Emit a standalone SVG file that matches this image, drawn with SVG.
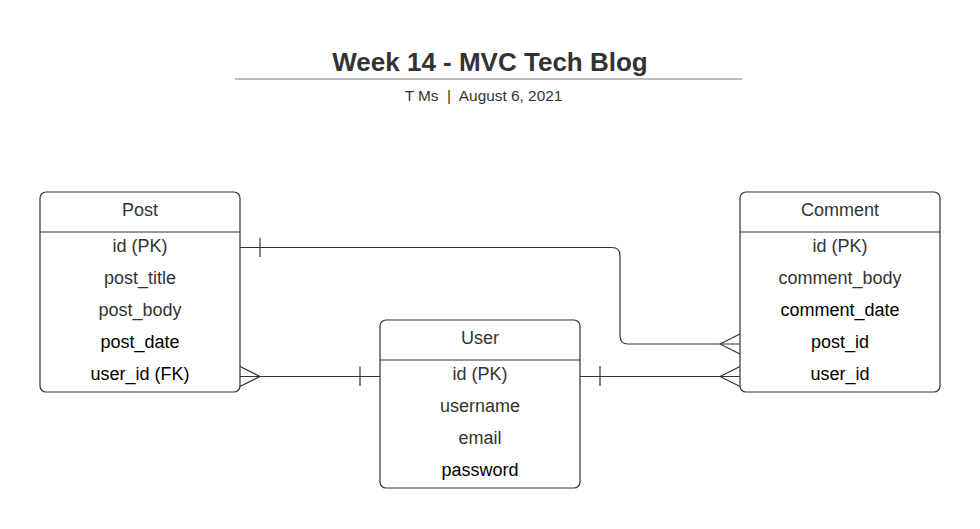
<svg xmlns="http://www.w3.org/2000/svg" width="980" height="529" viewBox="0 0 980 529">
<style>
text{font-family:"Liberation Sans",Arial,sans-serif;}
.box{fill:#fff;stroke:#333;stroke-width:1.2;}
.sep{stroke:#333;stroke-width:1.2;}
.h{font-size:18px;fill:#333;text-anchor:middle;}
.r{font-size:18px;fill:#333;text-anchor:middle;}
.k{fill:#000;}
.c{fill:none;stroke:#333;stroke-width:1.2;}
</style>
<rect width="980" height="529" fill="#fff"/>
<g id="title">
<text x="490" y="71" font-size="26" font-weight="bold" fill="#333" text-anchor="middle">Week 14 - MVC Tech Blog</text>
<line x1="235" y1="79" x2="742" y2="79" stroke="#a3a7ae" stroke-width="1.5"/>
<text x="483.5" y="101" font-size="15.4" fill="#333" text-anchor="middle" xml:space="preserve">T Ms  |  August 6, 2021</text>
</g>
<g id="connectors">
<path class="c" d="M240 247.5 H612 Q620 247.5 620 255.5 V336 Q620 344 628 344 H740"/>
<path class="c" d="M260 238 V257"/>
<path class="c" d="M720 344 L740 334 M720 344 L740 354"/>
<path class="c" d="M240 376.5 H380"/>
<path class="c" d="M260 376.5 L240 366.5 M260 376.5 L240 386.5"/>
<path class="c" d="M360 366.5 V386"/>
<path class="c" d="M580 376.5 H740"/>
<path class="c" d="M600 366 V386"/>
<path class="c" d="M720 376.5 L740 366.5 M720 376.5 L740 386.5"/>
</g>
<g id="post">
<rect class="box" x="40" y="192" width="200" height="200" rx="6"/>
<line class="sep" x1="40" y1="232" x2="240" y2="232"/>
<text class="h" x="140" y="216">Post</text>
<text class="r" x="140" y="252">id (PK)</text>
<text class="r" x="140" y="284">post_title</text>
<text class="r" x="140" y="316">post_body</text>
<text class="r k" x="140" y="348">post_date</text>
<text class="r k" x="140" y="380">user_id (FK)</text>
</g>
<g id="user">
<rect class="box" x="380" y="320" width="200" height="168" rx="6"/>
<line class="sep" x1="380" y1="360" x2="580" y2="360"/>
<text class="h" x="480" y="344">User</text>
<text class="r" x="480" y="380">id (PK)</text>
<text class="r" x="480" y="412">username</text>
<text class="r" x="480" y="444">email</text>
<text class="r k" x="480" y="476">password</text>
</g>
<g id="comment">
<rect class="box" x="740" y="192" width="200" height="200" rx="6"/>
<line class="sep" x1="740" y1="232" x2="940" y2="232"/>
<text class="h" x="840" y="216">Comment</text>
<text class="r" x="840" y="252">id (PK)</text>
<text class="r" x="840" y="284">comment_body</text>
<text class="r k" x="840" y="316">comment_date</text>
<text class="r k" x="840" y="348">post_id</text>
<text class="r k" x="840" y="380">user_id</text>
</g>
</svg>
